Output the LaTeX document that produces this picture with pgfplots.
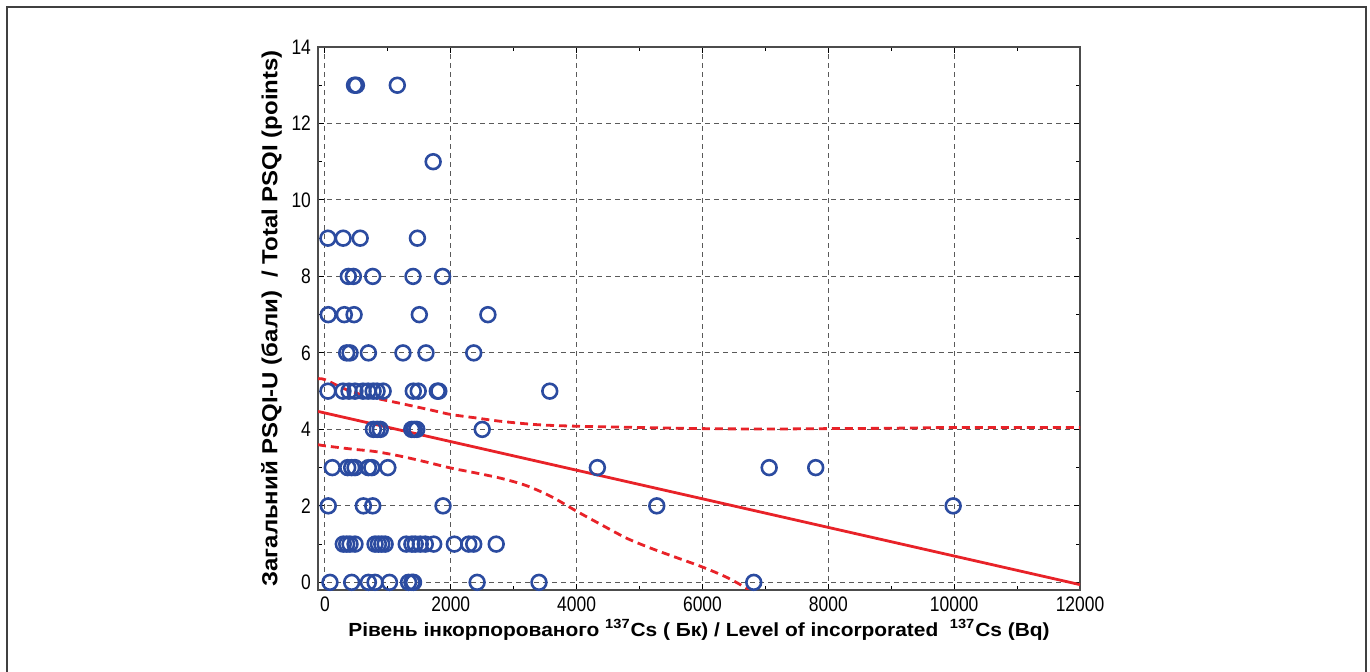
\documentclass[border=0pt]{standalone}
\usepackage{pgfplots}
\pgfplotsset{compat=1.18}
\usepackage{fontspec}
\setmainfont{Liberation Sans}
\newfontfamily\tickfont{Liberation Sans}[FakeStretch=0.83]
\newfontfamily\labfont{Liberation Sans Bold}[FakeStretch=1.1]
\definecolor{mblue}{RGB}{43,75,160}
\definecolor{mred}{RGB}{232,34,40}
\definecolor{gridc}{RGB}{90,90,90}
\begin{document}
\begin{tikzpicture}
\useasboundingbox (0pt,0pt) rectangle (685pt,336pt);
\draw[line width=0.7pt, black!75] (3.5pt,0pt) -- (3.5pt,332.5pt) -- (683pt,332.5pt) -- (683pt,0pt);
\begin{axis}[
  at={(159pt,41pt)}, anchor=south west,
  width=381pt, height=271.5pt, scale only axis,
  xmin=-110, xmax=12000, ymin=-0.2, ymax=14,
  xtick={0,2000,4000,6000,8000,10000,12000},
  ytick={0,2,4,6,8,10,12,14},
  scaled ticks=false,
  minor x tick num=1, minor y tick num=1,
  tick align=inside, tick pos=both,
  major tick length=3pt, minor tick length=2pt,
  every tick/.style={black, line width=0.5pt},
  axis line style={black!70, line width=1pt},
  grid=major,
  major grid style={gridc, dash pattern=on 2.5pt off 2pt, line width=0.5pt},
  /pgf/number format/assume math mode=true,
  /pgf/number format/1000 sep={},
  tick label style={font=\tickfont\fontsize{10.5}{12}\selectfont},
  xlabel={\labfont\fontsize{9.5}{11}\selectfont Рівень інкорпорованого \textsuperscript{137}Cs ( Бк) / Level of incorporated \ \textsuperscript{137}Cs (Bq)},
  ylabel={\labfont\fontsize{10.9}{13}\selectfont Загальний PSQI-U (бали) \ / Total PSQI (points)},
  xlabel style={yshift=3pt},
  ylabel style={yshift=-2pt},
]
\addplot[only marks, mark=o, mark size=3.7pt, mblue, line width=1.3pt] table {
x y
470 13
500 13
1150 13
1720 11
48 9
290 9
560 9
1470 9
372 8
452 8
760 8
1400 8
1870 8
53 7
308 7
463 7
1500 7
2590 7
346 6
399 6
691 6
1240 6
1606 6
2365 6
48 5
287 5
383 5
478 5
606 5
686 5
766 5
829 5
925 5
1404 5
1483 5
1786 5
1810 5
3573 5
770 4
830 4
880 4
1380 4
1420 4
1460 4
2500 4
117 3
362 3
425 3
478 3
691 3
745 3
1000 3
4330 3
7060 3
7800 3
53 2
611 2
760 2
1877 2
5274 2
9984 2
292 1
346 1
399 1
478 1
797 1
850 1
904 1
957 1
1292 1
1382 1
1435 1
1515 1
1595 1
1728 1
2057 1
2286 1
2365 1
2722 1
80 0
425 0
691 0
797 0
1026 0
1329 0
1382 0
1408 0
2419 0
3402 0
6815 0
};
\addplot[mred, line width=1.4pt] coordinates {(-110,4.47) (12000,-0.06)};
\addplot[mred, line width=1.4pt, dash pattern=on 4pt off 2.5pt, smooth] coordinates {
(-110,5.32) (0,5.30) (400,5.0) (800,4.82) (1200,4.68) (1700,4.5) (2000,4.39) (2400,4.3) (2800,4.21) (3400,4.12) (4067,4.08) (5000,4.05) (6000,4.02) (7000,4.01) (8000,4.02) (9000,4.03) (10000,4.05) (11000,4.05) (12000,4.05)};
\addplot[mred, line width=1.4pt, dash pattern=on 4pt off 2.5pt, smooth] coordinates {
(-110,3.6) (0,3.57) (400,3.49) (800,3.42) (1200,3.3) (1600,3.15) (2000,2.99) (2400,2.86) (2800,2.72) (3200,2.53) (3600,2.24) (4000,1.86) (4400,1.5) (4800,1.15) (5200,0.88) (5600,0.64) (6000,0.4) (6400,0.12) (6750,-0.2)};
\end{axis}
\end{tikzpicture}
\end{document}
